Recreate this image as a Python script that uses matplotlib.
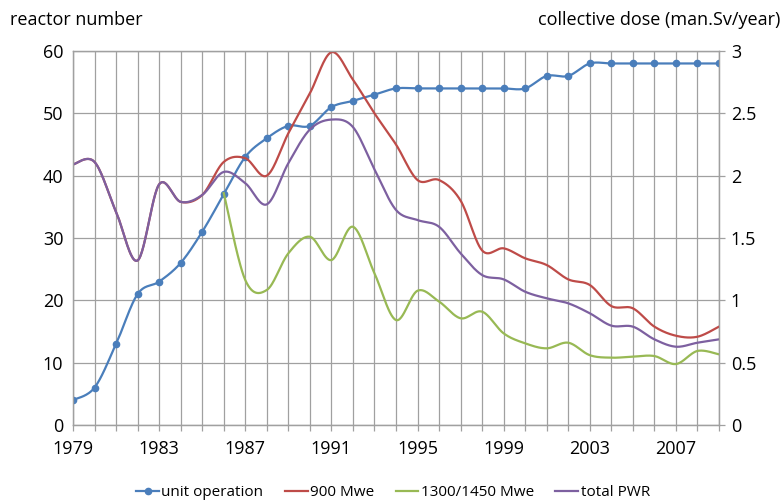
import numpy as np
import matplotlib
matplotlib.use("Agg")
import matplotlib.pyplot as plt
from matplotlib.lines import Line2D

plt.rcParams['font.family'] = ['Open Sans', 'DejaVu Sans']

years = list(range(1979, 2010))

unit_operation = [4, 6, 13, 21, 23, 26, 31, 37, 43, 46, 48, 48, 51, 52, 53, 54,
                  54, 54, 54, 54, 54, 54, 56, 56, 58, 58, 58, 58, 58, 58, 58]

mwe_900 = [2.09, 2.11, 1.71, 1.32, 1.93, 1.79, 1.845, 2.11, 2.14, 2.0, 2.34, 2.66,
           2.99, 2.77, 2.5, 2.25, 1.965, 1.965, 1.80, 1.40, 1.417, 1.337, 1.283,
           1.168, 1.123, 0.954, 0.936, 0.789, 0.716, 0.708, 0.789]

years_1300 = list(range(1986, 2010))
mwe_1300 = [1.86, 1.163, 1.083, 1.377, 1.51, 1.323, 1.59, 1.217, 0.842, 1.077,
            0.99, 0.856, 0.909, 0.735, 0.655, 0.615, 0.66, 0.56, 0.54, 0.548,
            0.553, 0.489, 0.594, 0.567]

total_pwr = [2.09, 2.11, 1.71, 1.32, 1.93, 1.79, 1.845, 2.03, 1.94, 1.77, 2.1, 2.37,
             2.45, 2.39, 2.05, 1.725, 1.644, 1.59, 1.377, 1.203, 1.168, 1.069, 1.016,
             0.976, 0.896, 0.797, 0.789, 0.687, 0.628, 0.66, 0.687]


def smooth(x, y, n=30):
    # bezier smoothing like the spreadsheet "smoothed line"
    x = np.asarray(x, float)
    y = np.asarray(y, float)
    px = np.concatenate([[x[0]], x, [x[-1]]])
    py = np.concatenate([[y[0]], y, [y[-1]]])
    t = np.linspace(0, 1, n)[:, None]
    xs, ys = [], []
    for i in range(1, len(px) - 2):
        c1x = px[i] + (px[i + 1] - px[i - 1]) / 6
        c1y = py[i] + (py[i + 1] - py[i - 1]) / 6
        c2x = px[i + 1] - (px[i + 2] - px[i]) / 6
        c2y = py[i + 1] - (py[i + 2] - py[i]) / 6
        b = [(1 - t) ** 3, 3 * (1 - t) ** 2 * t, 3 * (1 - t) * t ** 2, t ** 3]
        xs.append((b[0] * px[i] + b[1] * c1x + b[2] * c2x + b[3] * px[i + 1]).ravel())
        ys.append((b[0] * py[i] + b[1] * c1y + b[2] * c2y + b[3] * py[i + 1]).ravel())
    return np.concatenate(xs), np.concatenate(ys)


blue = '#4A7EBB'
red = '#BE4B48'
green = '#98B954'
purple = '#7D60A0'
grid_c = '#a0a0a0'

fig = plt.figure(figsize=(7.83, 5.01), dpi=100)
ax = fig.add_axes([73 / 783, 1 - 425 / 501, 646 / 783, 374 / 501])
ax2 = ax.twinx()

sx, sy = smooth(years, unit_operation)
ax.plot(sx, sy, color=blue, lw=1.6, zorder=3)
ax.plot(years, unit_operation, 'o', color=blue, ms=4.5, zorder=3)

for xs_, ys_, col in [(years, mwe_900, red), (years_1300, mwe_1300, green),
                      (years, total_pwr, purple)]:
    a, b = smooth(xs_, ys_)
    ax2.plot(a, b, color=col, lw=1.6)

ax.set_xlim(1979, 2009)
ax.set_ylim(0, 60)
ax2.set_ylim(0, 3)
ax.set_yticks(range(0, 61, 10))
ax2.set_yticks([0, 0.5, 1, 1.5, 2, 2.5, 3])
ax2.set_yticklabels(['0', '0.5', '1', '1.5', '2', '2.5', '3'])
ax.set_xticks(range(1979, 2009, 4))
ax.set_xticks(years, minor=True)
ax.grid(True, which='both', axis='x', color=grid_c, lw=0.9)
ax.grid(True, which='major', axis='y', color=grid_c, lw=0.9)
ax.set_axisbelow(True)

for a in (ax, ax2):
    for s in a.spines.values():
        s.set_color(grid_c)
        s.set_linewidth(0.9)
    a.tick_params(which='both', colors=grid_c, labelcolor='black', labelsize=13,
                  length=4.5, width=0.9)
ax.tick_params(axis='x', which='both', length=4.5, pad=6)
ax.tick_params(axis='y', length=0, pad=7)
ax2.tick_params(axis='y', pad=4)

fig.text(10 / 783, 1 - 20 / 501, 'reactor number', fontsize=13, va='center', ha='left')
fig.text(780 / 783, 1 - 20 / 501, 'collective dose (man.Sv/year)', fontsize=13,
         va='center', ha='right')

handles = [Line2D([], [], color=blue, lw=1.6, marker='o', ms=4.5),
           Line2D([], [], color=red, lw=1.6),
           Line2D([], [], color=green, lw=1.6),
           Line2D([], [], color=purple, lw=1.6)]
fig.legend(handles, ['unit operation', '900 Mwe', '1300/1450 Mwe', 'total PWR'],
           loc='center', bbox_to_anchor=(393 / 783, 1 - 493 / 501), ncol=4,
           frameon=False, fontsize=11, handlelength=1.5, handletextpad=0.15,
           columnspacing=1.4)

fig.savefig('out.png', dpi=100)
